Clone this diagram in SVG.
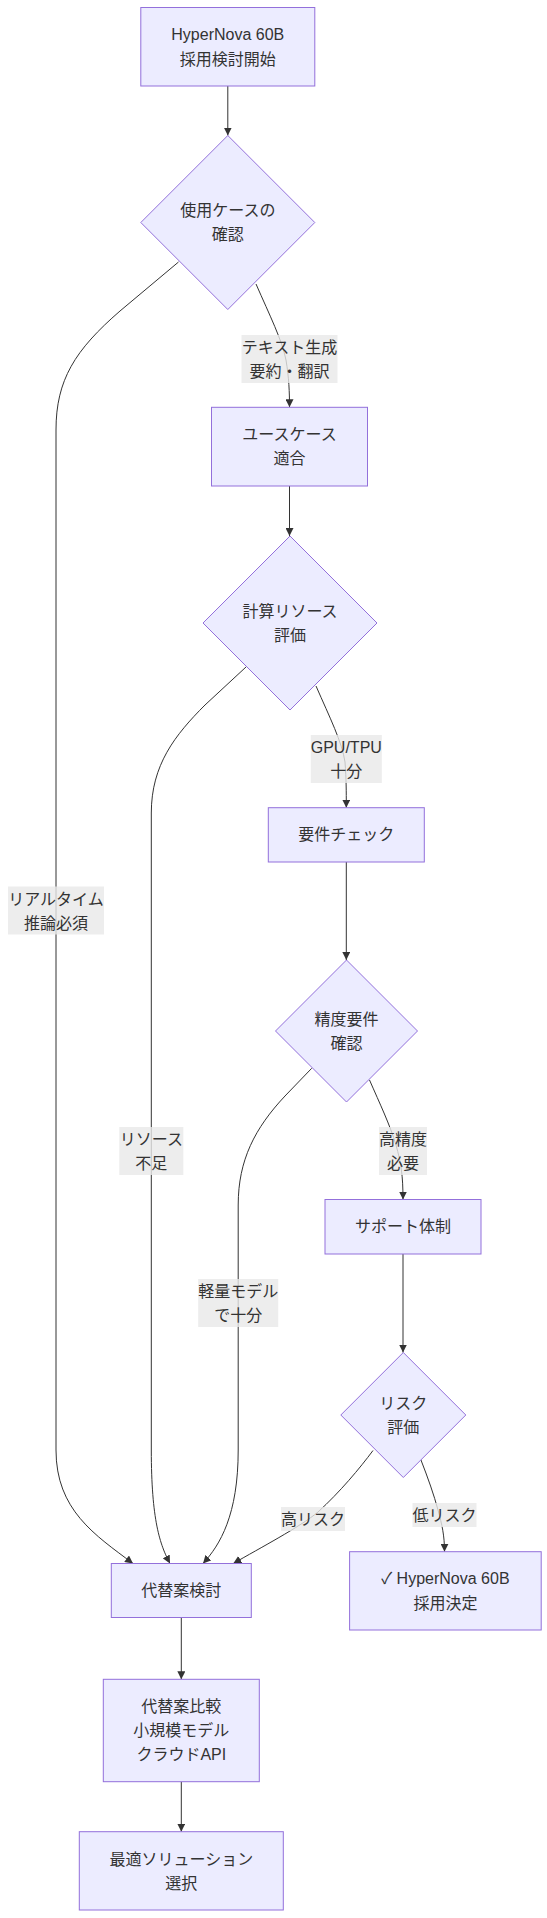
<svg xmlns="http://www.w3.org/2000/svg" width="547" height="1918" viewBox="0 0 547 1918">
<style>
  .node rect, .node polygon { fill: #ECECFF; stroke: #9370DB; stroke-width: 1px; }
  text { font-family: "Liberation Sans", Arial, "Noto Sans CJK JP", "DejaVu Sans", sans-serif; font-size: 16px; fill: #333333; text-anchor: middle; dominant-baseline: central; }
  .edge { fill: none; stroke: #333333; stroke-width: 1px; }
  .lbl rect { fill: #e8e8e8; fill-opacity: 0.8; stroke: none; }
</style>
<defs>
  <marker id="arrow" viewBox="0 0 10 10" refX="10" refY="5" markerUnits="userSpaceOnUse" markerWidth="8" markerHeight="8" orient="auto">
    <path d="M0,0 L10,5 L0,10 z" fill="#333333"/>
  </marker>
</defs>
<rect width="547" height="1918" fill="#ffffff"/>

<g id="connectors">
  <path class="edge" marker-end="url(#arrow)" d="M227.8,86 L227.8,135.5"/>
  <path class="edge" marker-end="url(#arrow)" d="M256,284 C270,316 282,340 286,360 C289,378 289.5,392 289.5,407.3"/>
  <path class="edge" marker-end="url(#arrow)" d="M178.5,262 L120,311 C75,350 56,380 56,430 L56,1450 C56,1510 95,1535 133,1563.5"/>
  <path class="edge" marker-end="url(#arrow)" d="M289.5,486 L289.5,536"/>
  <path class="edge" marker-end="url(#arrow)" d="M316,686 C330,718 342,742 345,762 C346.3,780 346.3,790 346.3,807.7"/>
  <path class="edge" marker-end="url(#arrow)" d="M246,667 L205,705 C175,735 151.3,765 151.3,813 L151.3,1450 C151.3,1520 160,1545 170,1563.5"/>
  <path class="edge" marker-end="url(#arrow)" d="M346.3,862 L346.3,960"/>
  <path class="edge" marker-end="url(#arrow)" d="M369.5,1080 C380,1104 390,1125 396,1145 C401,1163 403,1175 403,1199.5"/>
  <path class="edge" marker-end="url(#arrow)" d="M311.7,1068.3 L285,1096 C255,1128 238.2,1160 238.2,1205 L238.2,1450 C238.2,1515 220,1545 203,1563.5"/>
  <path class="edge" marker-end="url(#arrow)" d="M403,1254 L403,1352.5"/>
  <path class="edge" marker-end="url(#arrow)" d="M373,1450.5 C360,1468 340,1492 318,1512 C300,1527 260,1548 233.3,1563.5"/>
  <path class="edge" marker-end="url(#arrow)" d="M420.7,1459.3 C428,1478 434,1495 438,1510 C442,1525 444.5,1535 444.5,1551.7"/>
  <path class="edge" marker-end="url(#arrow)" d="M181.3,1617.5 L181.3,1679.3"/>
  <path class="edge" marker-end="url(#arrow)" d="M181.3,1781.7 L181.3,1831.7"/>
</g>

<g id="edge-labels">
  <g class="lbl"><rect x="241.5" y="335" width="96" height="48"/><text x="289.5" y="347">テキスト生成</text><text x="289.5" y="371">要約・翻訳</text></g>
  <g class="lbl"><rect x="8" y="886.5" width="96" height="48"/><text x="56" y="899">リアルタイム</text><text x="56" y="923">推論必須</text></g>
  <g class="lbl"><rect x="310.8" y="735" width="71" height="48"/><text x="346.3" y="747">GPU/TPU</text><text x="346.3" y="771">十分</text></g>
  <g class="lbl"><rect x="119.3" y="1127" width="64" height="48"/><text x="151.3" y="1139">リソース</text><text x="151.3" y="1163">不足</text></g>
  <g class="lbl"><rect x="379" y="1127" width="48" height="48"/><text x="403" y="1139">高精度</text><text x="403" y="1163">必要</text></g>
  <g class="lbl"><rect x="198.2" y="1279" width="80" height="48"/><text x="238.2" y="1291">軽量モデル</text><text x="238.2" y="1315">で十分</text></g>
  <g class="lbl"><rect x="281" y="1507" width="64" height="24"/><text x="313" y="1519">高リスク</text></g>
  <g class="lbl"><rect x="412.5" y="1503" width="64" height="24"/><text x="444.5" y="1515">低リスク</text></g>
</g>

<g id="start" class="node"><rect x="140.8" y="7.5" width="174" height="78.5"/><text x="227.8" y="34.5">HyperNova 60B</text><text x="227.8" y="59">採用検討開始</text></g>
<g id="usecase" class="node"><polygon points="227.8,135.5 314.8,222.5 227.8,309.5 140.8,222.5"/><text x="227.8" y="210.5">使用ケースの</text><text x="227.8" y="234.5">確認</text></g>
<g id="fit" class="node"><rect x="211.5" y="407.3" width="156" height="78.7"/><text x="289.5" y="434.8">ユースケース</text><text x="289.5" y="458.6">適合</text></g>
<g id="resource" class="node"><polygon points="290,536 377,623 290,710 203,623"/><text x="290" y="611">計算リソース</text><text x="290" y="635">評価</text></g>
<g id="req" class="node"><rect x="268.3" y="807.7" width="156" height="54.3"/><text x="346.3" y="834.8">要件チェック</text></g>
<g id="accuracy" class="node"><polygon points="346.5,960 417.5,1031 346.5,1102 275.5,1031"/><text x="346.5" y="1019">精度要件</text><text x="346.5" y="1043">確認</text></g>
<g id="support" class="node"><rect x="325" y="1199.5" width="156" height="54.5"/><text x="403" y="1226.7">サポート体制</text></g>
<g id="risk" class="node"><polygon points="403.3,1352.5 465.8,1415 403.3,1477.5 340.8,1415"/><text x="403.3" y="1403">リスク</text><text x="403.3" y="1427">評価</text></g>
<g id="alt" class="node"><rect x="111.3" y="1563.5" width="140" height="54"/><text x="181.3" y="1590.5">代替案検討</text></g>
<g id="adopt" class="node"><rect x="349.6" y="1551.7" width="191.6" height="78.3"/><text x="445.4" y="1578.5">✓ HyperNova 60B</text><text x="445.4" y="1603">採用決定</text></g>
<g id="compare" class="node"><rect x="103.3" y="1679.3" width="156" height="102.4"/><text x="181.3" y="1706.7">代替案比較</text><text x="181.3" y="1730.7">小規模モデル</text><text x="181.3" y="1754.7">クラウドAPI</text></g>
<g id="final" class="node"><rect x="79.3" y="1831.7" width="204" height="78.3"/><text x="181.3" y="1859">最適ソリューション</text><text x="181.3" y="1883">選択</text></g>
</svg>
